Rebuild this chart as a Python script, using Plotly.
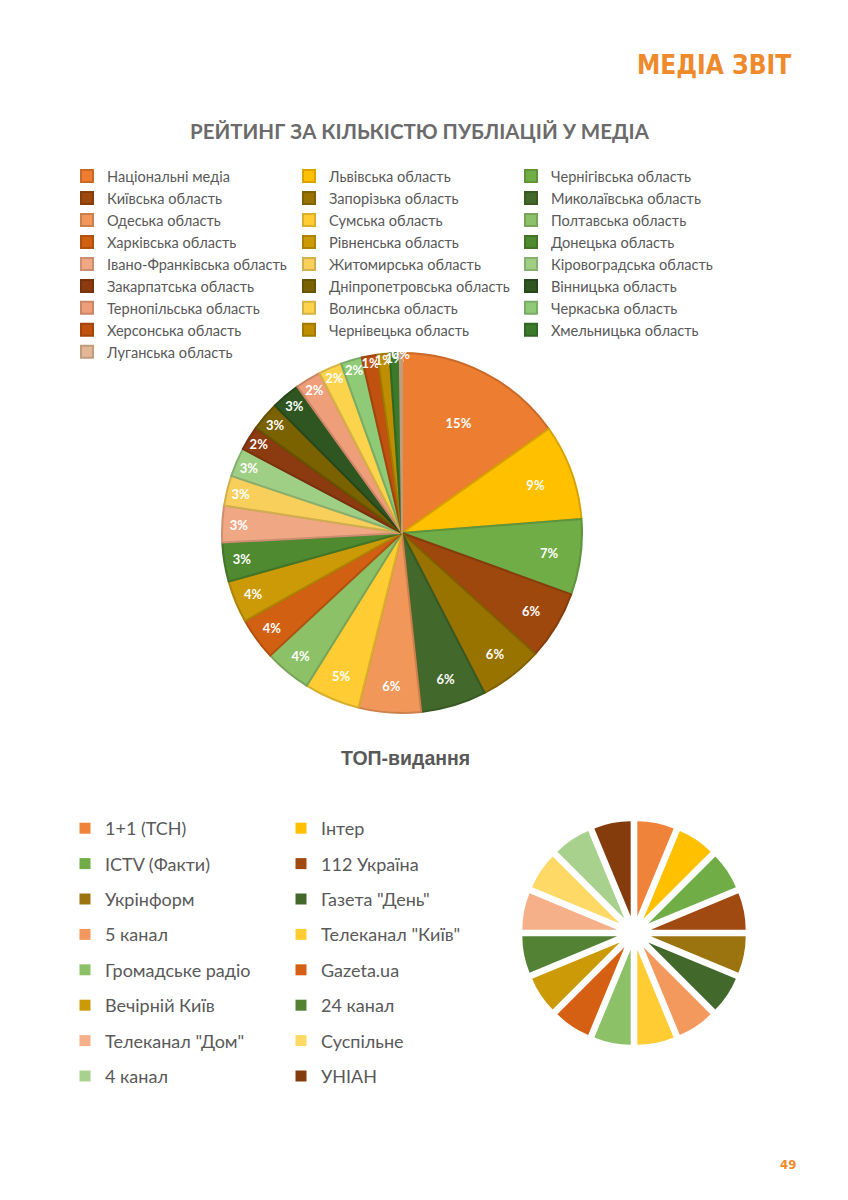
import plotly.graph_objects as go

# ---------------- data ----------------
regions = [
    "Національні медіа", "Львівська область", "Чернігівська область",
    "Київська область", "Запорізька область", "Миколаївська область",
    "Одеська область", "Сумська область", "Полтавська область",
    "Харківська область", "Рівненська область", "Донецька область",
    "Івано-Франківська область", "Житомирська область", "Кіровоградська область",
    "Закарпатська область", "Дніпропетровська область", "Вінницька область",
    "Тернопільська область", "Волинська область", "Черкаська область",
    "Херсонська область", "Чернівецька область", "Хмельницька область",
    "Луганська область",
]
region_share = [15.2, 8.6, 6.8, 6.2, 5.7, 5.9, 5.6, 5.0, 4.2, 3.8, 3.8, 3.5,
                3.3, 2.7, 2.6, 2.2, 2.6, 2.6, 2.3, 2.1, 1.9, 1.4, 1.1, 0.9, 0.2]
region_colors = [
    "#ED7D31", "#FFC000", "#70AD47", "#9E480E", "#997300", "#43682B",
    "#F1975A", "#FFCD33", "#8CC168", "#D26012", "#CC9A06", "#4F8A31",
    "#F0A884", "#F7CF5A", "#9FCF84", "#8C3A0F", "#7A6200", "#2F5520",
    "#EE9E78", "#FCD34D", "#8FCB77", "#C0510F", "#BE8E00", "#3A7A2A",
    "#E3B795",
]

outlets = [
    "1+1 (ТСН)", "Інтер", "ICTV (Факти)", "112 Україна", "Укрінформ",
    "Газета \"День\"", "5 канал", "Телеканал \"Київ\"", "Громадське радіо",
    "Gazeta.ua", "Вечірній Київ", "24 канал", "Телеканал \"Дом\"", "Суспільне",
    "4 канал", "УНІАН",
]
outlet_values = [1, 1, 1, 1, 1, 1, 1, 1, 1, 1, 1, 1, 1, 1, 1, 1]
outlet_colors = [
    "#F0833A", "#FFC000", "#70AD47", "#A04A12", "#9B7410", "#43682B",
    "#F4995E", "#FFCD33", "#8CC168", "#D55F13", "#CC9A06", "#548235",
    "#F5B08A", "#FFD966", "#A9D18E", "#843C0C",
]


def darker(hex_color, f=0.85):
    h = hex_color.lstrip("#")
    r, g, b = (int(h[i:i + 2], 16) for i in (0, 2, 4))
    return "#%02x%02x%02x" % (int(r * f), int(g * f), int(b * f))


# page is rendered with an 8px body margin
OFF = 8
W, H = 840, 1192


def px_x(x):
    return (x - OFF) / W


def px_y(y):
    return 1 - (y - OFF) / H


fig = go.Figure()

# top pie: centre (402, 533), radius 180
fig.add_trace(go.Pie(
    labels=regions, values=region_share, sort=False,
    direction="clockwise", rotation=0,
    marker=dict(colors=region_colors,
                line=dict(color=[darker(c) for c in region_colors], width=2)),
    texttemplate="%{percent:.0%}", textposition="inside",
    insidetextorientation="horizontal",
    textfont=dict(family="Lato", size=13, color="white", weight="bold"),
    domain=dict(x=[px_x(222), px_x(582)], y=[px_y(713), px_y(353)]),
    legend="legend", hoverinfo="label+percent",
))

# bottom pie: centre (634, 933), outer extent 112
fig.add_trace(go.Pie(
    labels=outlets, values=outlet_values, sort=False,
    direction="clockwise", rotation=0, pull=0.18,
    marker=dict(colors=outlet_colors, line=dict(width=0)),
    textinfo="none", showlegend=False,
    domain=dict(x=[px_x(522), px_x(746)], y=[px_y(1045), px_y(821)]),
    hoverinfo="label",
))

# legend entries for the bottom chart (two columns)
for i, (name, col) in enumerate(zip(outlets, outlet_colors)):
    fig.add_trace(go.Scatter(
        x=[None], y=[None], mode="markers", name=name,
        marker=dict(symbol="square", size=11, color=col),
        legend="legend2" if i % 2 == 0 else "legend3",
        legendgroup=name, showlegend=True, hoverinfo="skip",
    ))

gray = "#595959"
fig.update_layout(
    width=W, height=H,
    margin=dict(l=0, r=0, t=0, b=0),
    paper_bgcolor="white", plot_bgcolor="white",
    xaxis=dict(visible=False), yaxis=dict(visible=False),
    uniformtext=dict(minsize=13, mode="show"),
    legend=dict(
        orientation="h", x=px_x(67), y=px_y(160), xanchor="left", yanchor="top",
        entrywidth=177, entrywidthmode="pixels", traceorder="normal",
        font=dict(family="Lato", size=14.6, color=gray),
        bgcolor="rgba(0,0,0,0)",
    ),
    legend2=dict(
        orientation="v", x=px_x(65), y=px_y(810), xanchor="left", yanchor="top",
        tracegroupgap=9.0, font=dict(family="Lato", size=18, color=gray),
        bgcolor="rgba(0,0,0,0)",
    ),
    legend3=dict(
        orientation="v", x=px_x(281), y=px_y(810), xanchor="left", yanchor="top",
        tracegroupgap=9.0, font=dict(family="Lato", size=18, color=gray),
        bgcolor="rgba(0,0,0,0)",
    ),
    annotations=[
        dict(text="МЕДІА ЗВІТ", x=px_x(793), y=px_y(65), xref="paper", yref="paper",
             xanchor="right", yanchor="middle", showarrow=False,
             font=dict(family="Liberation Sans Narrow, DejaVu Sans Condensed",
                       size=26, color="#EF8A2B", weight="bold")),
        dict(text="РЕЙТИНГ ЗА КІЛЬКІСТЮ ПУБЛІАЦІЙ У МЕДІА", x=px_x(420), y=px_y(131),
             xref="paper", yref="paper", xanchor="center", yanchor="middle",
             showarrow=False,
             font=dict(family="Lato", size=20.5, color="#6B6B6B", weight="bold")),
        dict(text="ТОП-видання", x=px_x(405), y=px_y(758), xref="paper", yref="paper",
             xanchor="center", yanchor="middle", showarrow=False,
             font=dict(family="Liberation Sans", size=19.5, color="#595959", weight="bold")),
        dict(text="49", x=px_x(788), y=px_y(1164), xref="paper", yref="paper",
             xanchor="center", yanchor="middle", showarrow=False,
             font=dict(family="Liberation Sans Narrow, DejaVu Sans Condensed",
                       size=13, color="#EF8A2B", weight="bold")),
    ],
)

fig.write_html("out.html")
